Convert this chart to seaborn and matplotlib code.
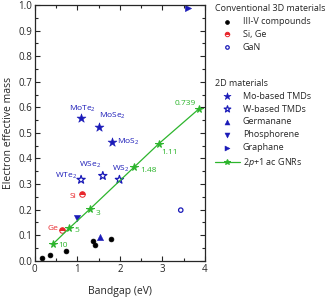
import matplotlib
matplotlib.use('Agg')
import matplotlib.pyplot as plt
import seaborn as sns
from matplotlib.ticker import MultipleLocator

# Data
iiiv_gap = [0.17, 0.35, 0.74, 1.36, 1.42, 1.80]
iiiv_mass = [0.012, 0.023, 0.040, 0.079, 0.060, 0.087]

sige_names = ['Si', 'Ge']
sige_gap = [1.11, 0.65]
sige_mass = [0.263, 0.121]

gan_gap = [3.43]
gan_mass = [0.198]

mo_names = ['MoTe$_2$', 'MoSe$_2$', 'MoS$_2$']
mo_gap = [1.09, 1.50, 1.81]
mo_mass = [0.557, 0.525, 0.465]

w_names = ['WTe$_2$', 'WSe$_2$', 'WS$_2$']
w_gap = [1.09, 1.60, 1.99]
w_mass = [0.317, 0.332, 0.317]

germ_gap = [1.54]
germ_mass = [0.092]
phos_gap = [1.00]
phos_mass = [0.168]
graph_gap = [3.61]
graph_mass = [0.987]

gnr_width = ['10', '5', '3', '1.48', '1.11', '0.739']
gnr_gap = [0.42, 0.81, 1.29, 2.34, 2.91, 3.85]
gnr_mass = [0.064, 0.127, 0.201, 0.367, 0.457, 0.593]

blue = '#1a1ab8'
red = '#e8262b'
green = '#2db52d'
label_fs = 6

sns.set_style('ticks')
plt.rcParams['font.family'] = ['Open Sans', 'DejaVu Sans']
plt.rcParams['mathtext.fontset'] = 'custom'
plt.rcParams['mathtext.rm'] = 'Open Sans'
plt.rcParams['mathtext.it'] = 'Open Sans:italic'

fig = plt.figure(figsize=(3.27, 2.98), dpi=100)
ax = fig.add_axes([0.106, 0.125, 0.521, 0.858])

sns.scatterplot(x=iiiv_gap, y=iiiv_mass, ax=ax, color='black', s=12,
                edgecolor='black', linewidth=0.5, label='III-V compounds')
sns.lineplot(x=sige_gap, y=sige_mass, ax=ax, color=red, marker='o', linestyle='none',
             markersize=4, fillstyle='top', markerfacecoloralt='white',
             markeredgecolor=red, markeredgewidth=0.7, label='Si, Ge')
sns.scatterplot(x=gan_gap, y=gan_mass, ax=ax, s=10, facecolor='none',
                edgecolor=blue, linewidth=0.9, label='GaN')

sns.scatterplot(x=mo_gap, y=mo_mass, ax=ax, marker='*', s=45, color=blue,
                edgecolor=blue, linewidth=0.4, label='Mo-based TMDs')
sns.scatterplot(x=w_gap, y=w_mass, ax=ax, marker='*', s=38, facecolor='none',
                edgecolor=blue, linewidth=0.9, label='W-based TMDs')
sns.scatterplot(x=germ_gap, y=germ_mass, ax=ax, marker='^', s=20, color=blue,
                edgecolor=blue, label='Germanane')
sns.scatterplot(x=phos_gap, y=phos_mass, ax=ax, marker='v', s=20, color=blue,
                edgecolor=blue, label='Phosphorene')
sns.scatterplot(x=graph_gap, y=graph_mass, ax=ax, marker='>', s=20, color=blue,
                edgecolor=blue, label='Graphane')
sns.lineplot(x=gnr_gap, y=gnr_mass, ax=ax, color=green, linewidth=0.9, marker='*',
             markersize=5.5, markeredgecolor=green, label='2$p$+1 ac GNRs')

# point labels
for name, x, y, off, ha in zip(mo_names, mo_gap, mo_mass,
                               [(1, 3), (0, 4), (4, 0)], ['center', 'left', 'left']):
    ax.annotate(name, (x, y), xytext=off, textcoords='offset points',
                ha=ha, va='bottom' if off[1] > 0 else 'center', color=blue, fontsize=label_fs)
for name, x, y, off, ha, va in zip(w_names, w_gap, w_mass,
                                   [(-3, 3), (-1, 4), (1, 4)],
                                   ['right', 'right', 'center'], ['center', 'bottom', 'bottom']):
    ax.annotate(name, (x, y), xytext=off, textcoords='offset points',
                ha=ha, va=va, color=blue, fontsize=label_fs)
for name, x, y, off in zip(sige_names, sige_gap, sige_mass, [(-4, -2), (-3, 1)]):
    ax.annotate(name, (x, y), xytext=off, textcoords='offset points',
                ha='right', va='center', color=red, fontsize=label_fs)
gnr_off = [(4, -2), (4, -3), (4, -4), (4, -4), (2, -7), (-2, 3)]
for name, x, y, off in zip(gnr_width, gnr_gap, gnr_mass, gnr_off):
    ax.annotate(name, (x, y), xytext=off, textcoords='offset points',
                ha='left' if off[0] > 0 else 'right', va='baseline',
                color=green, fontsize=label_fs)

ax.set_xlim(0, 4)
ax.set_ylim(0, 1.0)
ax.xaxis.set_major_locator(MultipleLocator(1))
ax.xaxis.set_minor_locator(MultipleLocator(0.5))
ax.yaxis.set_major_locator(MultipleLocator(0.1))
ax.yaxis.set_minor_locator(MultipleLocator(0.05))
ax.yaxis.set_major_formatter(plt.FormatStrFormatter('%.1f'))
ax.tick_params(which='both', direction='in', top=True, right=True, width=0.8,
               labelsize=7, pad=2)
ax.tick_params(which='major', length=3.5)
ax.tick_params(which='minor', length=2)
for sp in ax.spines.values():
    sp.set_visible(True)
    sp.set_linewidth(0.9)
ax.set_xlabel('Bandgap (eV)', fontsize=7.5, labelpad=8)
ax.set_ylabel('Electron effective mass', fontsize=7.5, labelpad=3)

handles, labels = ax.get_legend_handles_labels()
if ax.get_legend():
    ax.get_legend().remove()
leg_kw = dict(frameon=False, fontsize=6.5, title_fontsize=6.5, alignment='left',
              handlelength=2.8, handletextpad=0.3, labelspacing=0.42, borderpad=0,
              borderaxespad=0, markerscale=0.8, loc='upper left')
fig.legend(handles[:3], labels[:3], title='Conventional 3D materials',
           bbox_to_anchor=(0.657, 0.985), **leg_kw)
fig.legend(handles[3:], labels[3:], title='2D materials',
           bbox_to_anchor=(0.657, 0.735), **leg_kw)

fig.savefig('out.png', dpi=100)
